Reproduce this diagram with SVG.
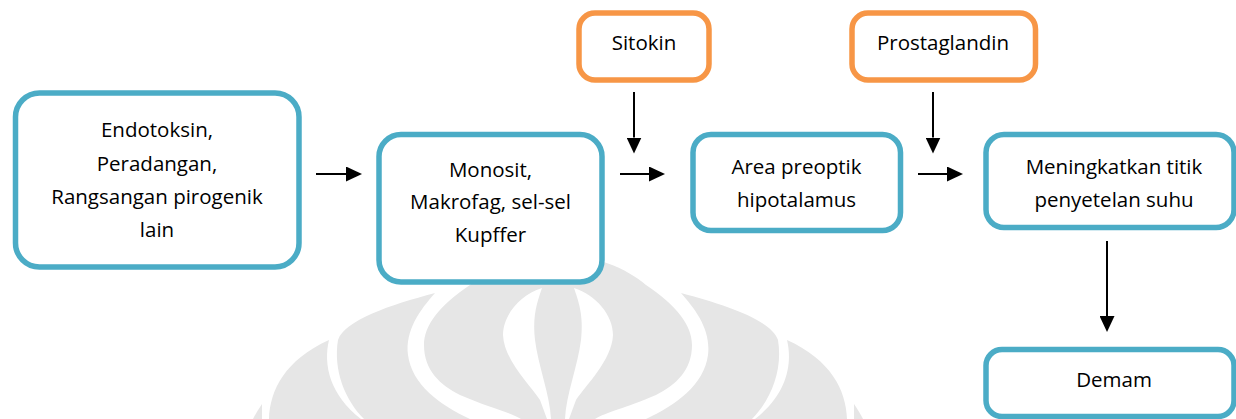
<svg xmlns="http://www.w3.org/2000/svg" width="1236" height="419" viewBox="0 0 1236 419">
<defs>
<style>
.blue{fill:#ffffff;stroke:#4bacc6;stroke-width:5.5}
.orange{fill:#ffffff;stroke:#f79646;stroke-width:5.5}
.t{font-family:"Open Sans",Carlito,Lato,sans-serif;font-size:20.5px;fill:#000000;text-anchor:middle}
.wm{fill:#e6e6e6}
.wmw{fill:#ffffff}
.c{stroke:#000000;stroke-width:2;fill:none;marker-end:url(#ah)}
</style>
<marker id="ah" markerUnits="userSpaceOnUse" markerWidth="16" markerHeight="15" refX="0" refY="7.5" orient="auto">
<path d="M0,0 L16,7.5 L0,15 Z" fill="#000000"/>
</marker>
</defs>
<rect width="1236" height="419" fill="#ffffff"/>
<g id="watermark">
<path class="wm" d="M269,419 C270,390 285,360 329,340 C323,365 330,395 361,419 Z"/>
<path class="wm" d="M847,419 C846,390 831,360 787,340 C793,365 786,395 755,419 Z"/>
<path class="wm" d="M435,293 C390,305 345,320 338,340 C333,370 345,400 364,419 L470,419 C440,405 412,385 408,355 C405,330 420,310 435,293 Z"/>
<path class="wm" d="M681,293 C726,305 771,320 778,340 C783,370 771,400 752,419 L646,419 C676,405 704,385 708,355 C711,330 696,310 681,293 Z"/>
<path class="wm" d="M558,255 C520,255 490,268 470,285 C440,305 424,325 424,345 C424,370 440,385 460,395 C490,408 510,412 521,419 L595,419 C606,412 626,408 656,395 C676,385 692,370 692,345 C692,325 676,305 646,285 C626,268 596,255 558,255 Z"/>
<path class="wmw" d="M542,288 C520,295 503,315 503,335 C504,360 530,385 540,400 L547,419 L551,419 C550,395 538,365 535,340 C532,315 538,300 542,288 Z"/>
<path class="wmw" d="M574,288 C596,295 613,315 613,335 C612,360 586,385 576,400 L569,419 L565,419 C566,395 578,365 581,340 C584,315 578,300 574,288 Z"/>
<path class="wm" d="M262,404 C258,410 255,415 253,419 L262,419 Z"/>
<path class="wm" d="M854,404 C858,410 861,415 863,419 L854,419 Z"/>
</g>
<g id="connectors">
<path class="c" d="M316,174 H346"/>
<path class="c" d="M620,174 H649"/>
<path class="c" d="M918,174 H947"/>
<path class="c" d="M634,92 V137.5"/>
<path class="c" d="M933,92 V137.5"/>
<path class="c" d="M1107,241 V316"/>
</g>
<g id="n1">
<rect class="blue" x="15.5" y="93" width="283.5" height="174" rx="24"/>
<text class="t" x="157" y="137">Endotoksin,</text>
<text class="t" x="157" y="170.5">Peradangan,</text>
<text class="t" x="157" y="203.5">Rangsangan pirogenik</text>
<text class="t" x="157" y="236.5">lain</text>
</g>
<g id="n2">
<rect class="blue" x="379" y="134.5" width="223" height="147.5" rx="22"/>
<text class="t" x="490.5" y="176.5">Monosit,</text>
<text class="t" x="490.5" y="209">Makrofag, sel-sel</text>
<text class="t" x="490.5" y="241.5">Kupffer</text>
</g>
<g id="n3">
<rect class="orange" x="579" y="13" width="130" height="67" rx="16"/>
<text class="t" x="644" y="50">Sitokin</text>
</g>
<g id="n4">
<rect class="blue" x="693" y="134.5" width="207.5" height="96" rx="18"/>
<text class="t" x="796.5" y="174">Area preoptik</text>
<text class="t" x="796.5" y="206.5">hipotalamus</text>
</g>
<g id="n5">
<rect class="orange" x="852" y="13" width="183.5" height="67" rx="16"/>
<text class="t" x="943" y="50">Prostaglandin</text>
</g>
<g id="n6">
<rect class="blue" x="986" y="134.5" width="248" height="93" rx="18"/>
<text class="t" x="1114" y="174">Meningkatkan titik</text>
<text class="t" x="1114" y="206.5">penyetelan suhu</text>
</g>
<g id="n7">
<rect class="blue" x="986" y="349.5" width="248" height="67" rx="16"/>
<text class="t" x="1114" y="386.5">Demam</text>
</g>
</svg>
